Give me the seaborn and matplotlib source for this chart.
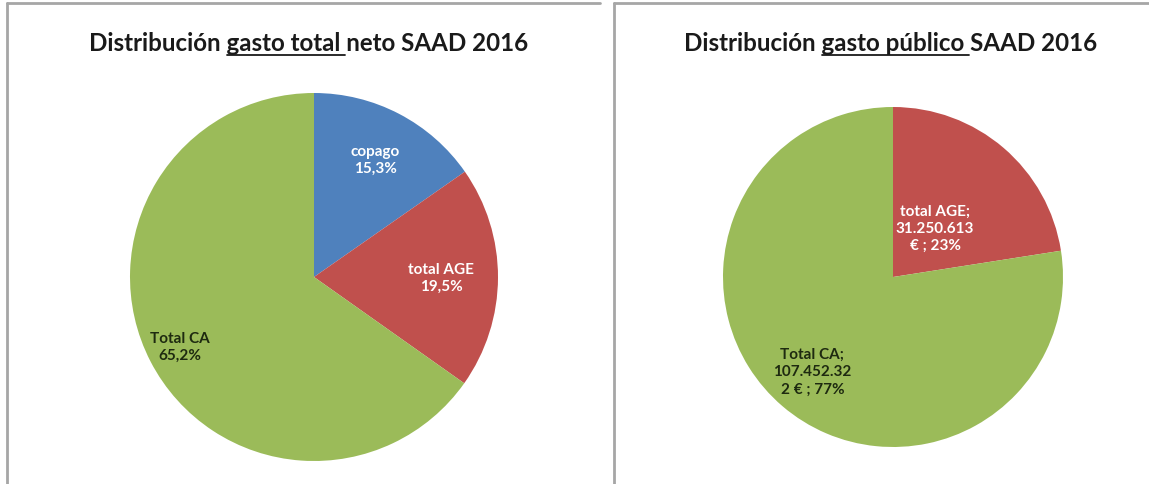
import matplotlib
matplotlib.use("Agg")
import matplotlib.pyplot as plt
import seaborn as sns
import numpy as np
from matplotlib.lines import Line2D

# data
total_labels = ["copago", "total AGE", "Total CA"]
total_pct = [15.3, 19.5, 65.2]
publico_labels = ["total AGE", "Total CA"]
publico_eur = [31250613, 107452322]

colors_total = ["#4F81BD", "#C0504D", "#9BBB59"]
colors_publico = ["#C0504D", "#9BBB59"]

sns.set_theme(style="white")
plt.rcParams["font.family"] = ["Lato", "DejaVu Sans"]

W, H = 1149, 485
TITLE_FS = 17.4
fig = plt.figure(figsize=(W / 100, H / 100), dpi=100)
fig.patch.set_facecolor("white")


def px_axes(cx, cy, r):
    return fig.add_axes([(cx - r) / W, (H - cy - r) / H, 2 * r / W, 2 * r / H])


def place_labels(ax, wedges, texts, radii, colors):
    for w, t, rr, c in zip(wedges, texts, radii, colors):
        ang = np.deg2rad((w.theta1 + w.theta2) / 2)
        ax.text(rr * np.cos(ang), rr * np.sin(ang), t, ha="center", va="center",
                fontsize=11, fontweight="bold", color=c, linespacing=1.3)


def underlined_title(x_px, y_px, pre, under, post):
    full = pre + under + post
    t = fig.text(x_px / W, 1 - y_px / H, full, ha="center", va="baseline",
                 fontsize=TITLE_FS, fontweight="bold", color="#1a1a1a")
    r = fig.canvas.get_renderer()
    bb = t.get_window_extent(r)

    def width(s):
        tmp = fig.text(0, 0, s, fontsize=TITLE_FS, fontweight="bold")
        w = tmp.get_window_extent(r).width
        tmp.remove()
        return w

    x0 = bb.x0 + width(pre)
    x1 = bb.x0 + width(pre + under.rstrip()) + 4
    yb = (H - y_px - 5)
    fig.add_artist(Line2D([x0 / W, x1 / W], [yb / H, yb / H], color="#1a1a1a", lw=1.3))


# left pie
ax1 = px_axes(314, 278, 184)
w1, _ = ax1.pie(total_pct, colors=colors_total, startangle=90, counterclock=False,
                radius=1, wedgeprops=dict(linewidth=0))
ax1.set_xlim(-1, 1)
ax1.set_ylim(-1, 1)
lab1 = [f"{n}\n{str(p).replace('.', ',')}%" for n, p in zip(total_labels, total_pct)]
place_labels(ax1, w1, lab1, [0.72, 0.69, 0.82], ["white", "white", "#1e2a10"])

# right pie
ax2 = px_axes(893, 278, 170)
w2, _ = ax2.pie(publico_eur, colors=colors_publico, startangle=90, counterclock=False,
                radius=1, wedgeprops=dict(linewidth=0))
ax2.set_xlim(-1, 1)
ax2.set_ylim(-1, 1)
tot = sum(publico_eur)
lab2 = []
for n, v in zip(publico_labels, publico_eur):
    s = f"{v:,}".replace(",", ".")
    pct = round(100 * v / tot)
    if len(s) > 10:
        lab2.append(f"{n};\n{s[:10]}\n{s[10:]} € ; {pct}%")
    else:
        lab2.append(f"{n};\n{s}\n€ ; {pct}%")
place_labels(ax2, w2, lab2, [0.38, 0.73], ["white", "#1e2a10"])

# titles
underlined_title(309, 51, "Distribución ", "gasto total ", "neto SAAD 2016")
underlined_title(891, 51, "Distribución ", "gasto público ", "SAAD 2016")

# panel borders
gray = "#a6a6a6"
for x0, x1 in [(7, 600), (614, W)]:
    fig.add_artist(Line2D([x0 / W, x1 / W], [1 - 4 / H, 1 - 4 / H], color=gray, lw=2))
    fig.add_artist(Line2D([x0 / W, x0 / W], [0, 1 - 4 / H], color=gray, lw=2))

fig.savefig("out.png", dpi=100, facecolor="white")
